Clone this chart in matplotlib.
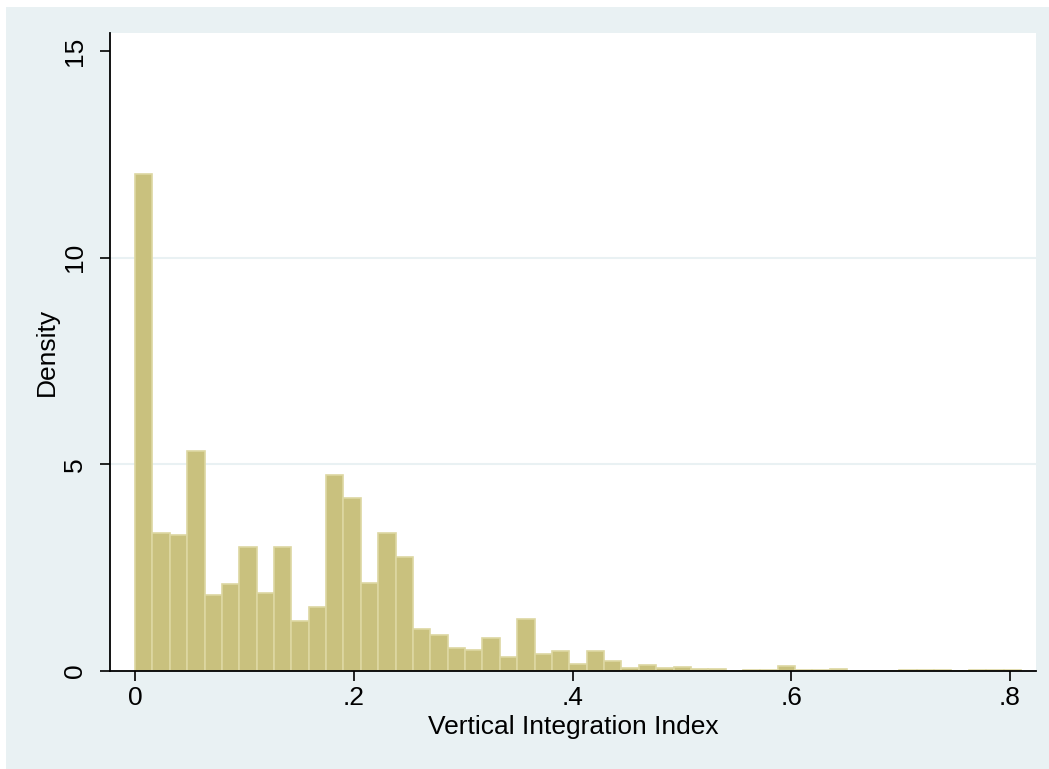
import numpy as np
import matplotlib
matplotlib.use("Agg")
import matplotlib.pyplot as plt
from matplotlib.patches import Rectangle

plt.rcParams['font.family'] = ['Liberation Sans', 'DejaVu Sans']

# Histogram of the vertical integration index (density scale), 51 bins from 0
bin_width = 0.81 / 51
density = [12.02, 3.33, 3.29, 5.32, 1.85, 2.10, 3.01, 1.88, 3.01, 1.21,
           1.54, 4.74, 4.19, 2.14, 3.35, 2.76, 1.02, 0.86, 0.55, 0.52,
           0.79, 0.35, 1.25, 0.40, 0.48, 0.16, 0.48, 0.25, 0.07, 0.145,
           0.065, 0.097, 0.04, 0.056, 0.01, 0.02, 0.02, 0.11, 0.02, 0.02,
           0.04, 0.0, 0.0, 0.0, 0.016, 0.016, 0.016, 0.0, 0.016, 0.016,
           0.016]
x_ticks = [0, 0.2, 0.4, 0.6, 0.8]
x_tick_labels = ['0', '.2', '.4', '.6', '.8']
y_ticks = [0, 5, 10, 15]
y_tick_labels = ['0', '5', '10', '15']

bg = '#E9F1F3'
bar_fill = '#C9C17E'
bar_edge = '#DDD7A2'

W, H = 1049, 769
fig = plt.figure(figsize=(W / 100, H / 100), dpi=100, facecolor='white')
# Stata-like graph region
fig.patches.append(Rectangle((6 / W, 0), 1, 1 - 7 / H, transform=fig.transFigure,
                             facecolor=bg, edgecolor='none', zorder=-10))

ax = fig.add_axes([110 / W, 1 - 671 / H, (1036 - 110) / W, (671 - 33) / H])
ax.set_facecolor('white')

left_edges = np.arange(len(density)) * bin_width
ax.bar(left_edges, density, width=bin_width, align='edge',
       color=bar_fill, edgecolor=bar_edge, linewidth=1.2, zorder=2)

# gridlines at interior ticks only
for yv in y_ticks[1:-1]:
    ax.axhline(yv, color=bg, linewidth=1.5, zorder=1)

ax.set_xlim(-0.0229, 0.8238)
ax.set_ylim(0, 15.44)

ax.set_xticks(x_ticks)
ax.set_xticklabels(x_tick_labels)
ax.set_yticks(y_ticks)
ax.set_yticklabels(y_tick_labels, rotation=90, va='center')

for s in ['top', 'right']:
    ax.spines[s].set_visible(False)
for s in ['left', 'bottom']:
    ax.spines[s].set_linewidth(1.3)
    ax.spines[s].set_zorder(3)

ax.tick_params(axis='both', direction='out', length=7.5, width=1.2,
               labelsize=19, colors='black')
ax.tick_params(axis='x', pad=3)
ax.tick_params(axis='y', pad=9)

ax.set_xlabel('Vertical Integration Index', fontsize=19)
ax.set_ylabel('Density', fontsize=19)
ax.xaxis.label.set_va('center')
ax.yaxis.label.set_va('center')
ax.xaxis.set_label_coords(0.5, -0.088)
ax.yaxis.set_label_coords(-0.068, 0.5)

fig.savefig('out.png', dpi=100, facecolor=fig.get_facecolor())
